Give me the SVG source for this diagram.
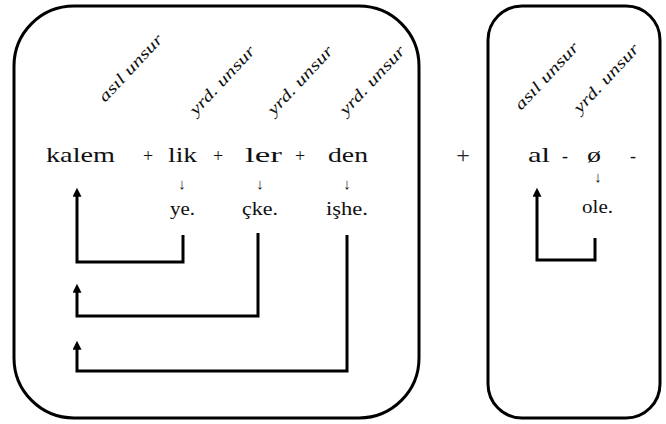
<svg xmlns="http://www.w3.org/2000/svg" width="666" height="424" viewBox="0 0 666 424">
  <defs>
    <!-- filled head for the derivation links -->
    <marker id="head" viewBox="0 0 10 10" refX="3" refY="5" markerWidth="3.4" markerHeight="3" orient="auto" markerUnits="strokeWidth">
      <path d="M0,0 L10,5 L0,10 Z" fill="#000"/>
    </marker>
  </defs>
  <rect width="666" height="424" fill="#fff"/>

  <!-- word: kalem-lik-ler-den -->
  <g id="word-kalemlikler" fill="#111">
    <rect x="14" y="6" width="405" height="412" rx="60" ry="60" fill="#fff" stroke="#000" stroke-width="3"/>
    <text style="font-family:'Liberation Serif',serif;font-size:16px;font-style:italic" transform="translate(105,103) rotate(-47)" textLength="86" lengthAdjust="spacingAndGlyphs">asıl unsur</text>
    <text style="font-family:'Liberation Serif',serif;font-size:16px;font-style:italic" transform="translate(196,116) rotate(-47)" textLength="88" lengthAdjust="spacingAndGlyphs">yrd. unsur</text>
    <text style="font-family:'Liberation Serif',serif;font-size:16px;font-style:italic" transform="translate(274,116) rotate(-47)" textLength="88" lengthAdjust="spacingAndGlyphs">yrd. unsur</text>
    <text style="font-family:'Liberation Serif',serif;font-size:16px;font-style:italic" transform="translate(346,116) rotate(-47)" textLength="88" lengthAdjust="spacingAndGlyphs">yrd. unsur</text>
    <text style="font-family:'Liberation Serif',serif;font-size:22px" x="46" y="162" textLength="69" lengthAdjust="spacingAndGlyphs">kalem</text>
    <text style="font-family:'Liberation Serif',serif;font-size:18px" x="148" y="162" text-anchor="middle">+</text>
    <text style="font-family:'Liberation Serif',serif;font-size:22px" x="168" y="162" textLength="29" lengthAdjust="spacingAndGlyphs">lik</text>
    <text style="font-family:'Liberation Serif',serif;font-size:18px" x="218" y="162" text-anchor="middle">+</text>
    <text style="font-family:'Liberation Serif',serif;font-size:22px" x="245" y="162" textLength="37" lengthAdjust="spacingAndGlyphs">ler</text>
    <text style="font-family:'Liberation Serif',serif;font-size:18px" x="300" y="162" text-anchor="middle">+</text>
    <text style="font-family:'Liberation Serif',serif;font-size:22px" x="328" y="162" textLength="40" lengthAdjust="spacingAndGlyphs">den</text>
    <text style="font-family:'Liberation Serif',serif;font-size:15px" x="182" y="189" text-anchor="middle">↓</text>
    <text style="font-family:'Liberation Serif',serif;font-size:15px" x="260" y="189" text-anchor="middle">↓</text>
    <text style="font-family:'Liberation Serif',serif;font-size:15px" x="347" y="189" text-anchor="middle">↓</text>
    <text style="font-family:'Liberation Serif',serif;font-size:18px" x="170" y="215" textLength="25" lengthAdjust="spacingAndGlyphs">ye.</text>
    <text style="font-family:'Liberation Serif',serif;font-size:18px" x="242" y="215" textLength="36" lengthAdjust="spacingAndGlyphs">çke.</text>
    <text style="font-family:'Liberation Serif',serif;font-size:18px" x="326" y="215" textLength="42" lengthAdjust="spacingAndGlyphs">işhe.</text>
  </g>

  <!-- joining plus -->
  <g id="plus" fill="#222">
    <text style="font-family:'Liberation Serif',serif;font-size:24px" x="463" y="163" text-anchor="middle">+</text>
  </g>

  <!-- word: al-Ø -->
  <g id="word-al" fill="#111">
    <rect x="488" y="6" width="172" height="412" rx="34" ry="34" fill="#fff" stroke="#000" stroke-width="3"/>
    <text style="font-family:'Liberation Serif',serif;font-size:16px;font-style:italic" transform="translate(521,111) rotate(-47)" textLength="86" lengthAdjust="spacingAndGlyphs">asıl unsur</text>
    <text style="font-family:'Liberation Serif',serif;font-size:16px;font-style:italic" transform="translate(580,114) rotate(-47)" textLength="88" lengthAdjust="spacingAndGlyphs">yrd. unsur</text>
    <text style="font-family:'Liberation Serif',serif;font-size:22px" x="528" y="162" textLength="22" lengthAdjust="spacingAndGlyphs">al</text>
    <text style="font-family:'Liberation Serif',serif;font-size:18px" x="565" y="162" text-anchor="middle">-</text>
    <text style="font-family:'Liberation Serif',serif;font-size:22px" x="587" y="162" textLength="14" lengthAdjust="spacingAndGlyphs">ø</text>
    <text style="font-family:'Liberation Serif',serif;font-size:18px" x="633" y="162" text-anchor="middle">-</text>
    <text style="font-family:'Liberation Serif',serif;font-size:15px" x="598" y="182" text-anchor="middle">↓</text>
    <text style="font-family:'Liberation Serif',serif;font-size:18px" x="582" y="213" textLength="31" lengthAdjust="spacingAndGlyphs">ole.</text>
  </g>

  <!-- derivation links back to the root -->
  <g id="connectors" fill="none" stroke="#000" stroke-width="3">
    <path d="M183,235 V262 H77 V194" marker-end="url(#head)"/>
    <path d="M258,233 V316 H77 V290" marker-end="url(#head)"/>
    <path d="M347,235 V371 H77 V347" marker-end="url(#head)"/>
    <path d="M595,238 V260 H537 V194" marker-end="url(#head)"/>
  </g>
</svg>
